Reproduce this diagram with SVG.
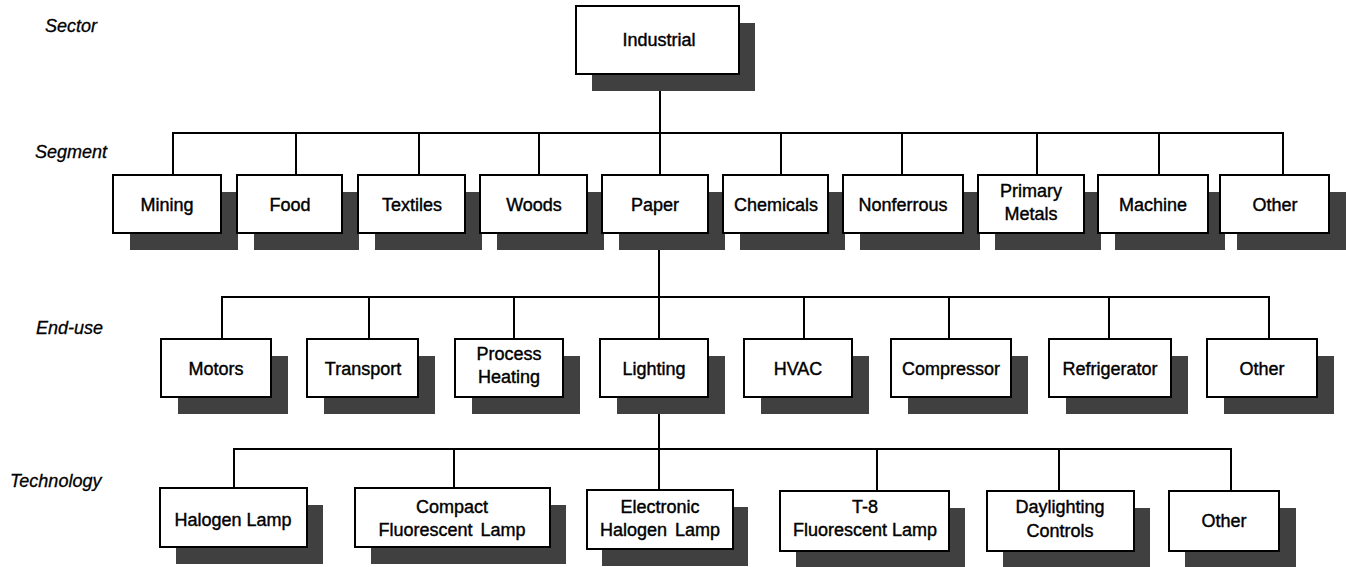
<svg xmlns="http://www.w3.org/2000/svg" width="1346" height="567" viewBox="0 0 1346 567">
<style>
.bg{fill:#fff}
.sh{fill:#404040}
.bx{fill:#fff;stroke:#000;stroke-width:2}
.t{font-family:"Liberation Sans",Arial,sans-serif;font-size:18px;fill:#000;stroke:#000;stroke-width:0.4;text-anchor:middle}
.lab{font-family:"Liberation Sans",Arial,sans-serif;font-size:18px;font-style:italic;fill:#000;stroke:#000;stroke-width:0.3}
.c{fill:none;stroke:#000;stroke-width:2}
</style>
<rect class="bg" x="0" y="0" width="1346" height="567"/>
<g id="level-labels">
<text class="lab" x="45" y="32">Sector</text>
<text class="lab" x="35" y="158">Segment</text>
<text class="lab" x="36" y="334">End-use</text>
<text class="lab" x="10" y="487">Technology</text>
</g>
<g id="connectors">
<path class="c" d="M660 74V133M173 175V133H1283V175M296 133V175M419 133V175M539 133V175M660 133V175M781 133V175M902 133V175M1037 133V175M1159 133V175"/>
<path class="c" d="M659 233V297M222 339V297H1269V339M369 297V339M514 297V339M659 297V339M804 297V339M949 297V339M1109 297V339"/>
<path class="c" d="M659 397V449M234 488V449H1231V491M454 449V488M659 449V490M877 449V491M1059 449V491"/>
</g>
<g id="n-industrial"><rect class="sh" x="592" y="23" width="163" height="68"/><rect class="bx" x="576" y="6" width="163" height="68"/><text class="t" x="659" y="46">Industrial</text></g>

<g id="n-mining"><rect class="sh" x="130" y="192" width="108" height="58"/><rect class="bx" x="113" y="175" width="108" height="58"/><text class="t" x="167" y="211">Mining</text></g>
<g id="n-food"><rect class="sh" x="254" y="192" width="105" height="58"/><rect class="bx" x="237" y="175" width="105" height="58"/><text class="t" x="290" y="211">Food</text></g>
<g id="n-textiles"><rect class="sh" x="375" y="192" width="107" height="58"/><rect class="bx" x="358" y="175" width="107" height="58"/><text class="t" x="412" y="211">Textiles</text></g>
<g id="n-woods"><rect class="sh" x="497" y="192" width="107" height="58"/><rect class="bx" x="480" y="175" width="107" height="58"/><text class="t" x="534" y="211">Woods</text></g>
<g id="n-paper"><rect class="sh" x="619" y="192" width="106" height="58"/><rect class="bx" x="602" y="175" width="106" height="58"/><text class="t" x="655" y="211">Paper</text></g>
<g id="n-chemicals"><rect class="sh" x="740" y="192" width="105" height="58"/><rect class="bx" x="723" y="175" width="105" height="58"/><text class="t" x="776" y="211">Chemicals</text></g>
<g id="n-nonferrous"><rect class="sh" x="860" y="192" width="120" height="58"/><rect class="bx" x="843" y="175" width="120" height="58"/><text class="t" x="903" y="211">Nonferrous</text></g>
<g id="n-primary-metals"><rect class="sh" x="995" y="192" width="106" height="58"/><rect class="bx" x="978" y="175" width="106" height="58"/><text class="t" x="1031" y="197">Primary</text><text class="t" x="1031" y="220">Metals</text></g>
<g id="n-machine"><rect class="sh" x="1115" y="192" width="110" height="58"/><rect class="bx" x="1098" y="175" width="110" height="58"/><text class="t" x="1153" y="211">Machine</text></g>
<g id="n-other-segment"><rect class="sh" x="1237" y="192" width="109" height="58"/><rect class="bx" x="1220" y="175" width="109" height="58"/><text class="t" x="1275" y="211">Other</text></g>

<g id="n-motors"><rect class="sh" x="178" y="356" width="110" height="58"/><rect class="bx" x="161" y="339" width="110" height="58"/><text class="t" x="216" y="375">Motors</text></g>
<g id="n-transport"><rect class="sh" x="324" y="356" width="111" height="58"/><rect class="bx" x="307" y="339" width="111" height="58"/><text class="t" x="363" y="375">Transport</text></g>
<g id="n-process-heating"><rect class="sh" x="472" y="356" width="108" height="58"/><rect class="bx" x="455" y="339" width="108" height="58"/><text class="t" x="509" y="360">Process</text><text class="t" x="509" y="383">Heating</text></g>
<g id="n-lighting"><rect class="sh" x="617" y="356" width="108" height="58"/><rect class="bx" x="600" y="339" width="108" height="58"/><text class="t" x="654" y="375">Lighting</text></g>
<g id="n-hvac"><rect class="sh" x="761" y="356" width="108" height="58"/><rect class="bx" x="744" y="339" width="108" height="58"/><text class="t" x="798" y="375">HVAC</text></g>
<g id="n-compressor"><rect class="sh" x="908" y="356" width="120" height="58"/><rect class="bx" x="891" y="339" width="120" height="58"/><text class="t" x="951" y="375">Compressor</text></g>
<g id="n-refrigerator"><rect class="sh" x="1066" y="356" width="122" height="58"/><rect class="bx" x="1049" y="339" width="122" height="58"/><text class="t" x="1110" y="375">Refrigerator</text></g>
<g id="n-other-enduse"><rect class="sh" x="1224" y="356" width="110" height="58"/><rect class="bx" x="1207" y="339" width="110" height="58"/><text class="t" x="1262" y="375">Other</text></g>

<g id="n-halogen-lamp"><rect class="sh" x="176" y="505" width="147" height="59"/><rect class="bx" x="160" y="488" width="147" height="59"/><text class="t" x="233" y="526">Halogen Lamp</text></g>
<g id="n-cfl"><rect class="sh" x="371" y="505" width="195" height="59"/><rect class="bx" x="355" y="488" width="195" height="59"/><text class="t" x="452" y="513">Compact</text><text class="t" x="452" y="536" word-spacing="3">Fluorescent Lamp</text></g>
<g id="n-electronic-halogen"><rect class="sh" x="602" y="507" width="146" height="59"/><rect class="bx" x="587" y="490" width="146" height="59"/><text class="t" x="660" y="513">Electronic</text><text class="t" x="660" y="536" word-spacing="3">Halogen Lamp</text></g>
<g id="n-t8"><rect class="sh" x="796" y="508" width="169" height="59"/><rect class="bx" x="780" y="491" width="169" height="60"/><text class="t" x="865" y="513">T-8</text><text class="t" x="865" y="536">Fluorescent Lamp</text></g>
<g id="n-daylighting"><rect class="sh" x="1003" y="508" width="147" height="59"/><rect class="bx" x="987" y="491" width="147" height="60"/><text class="t" x="1060" y="513">Daylighting</text><text class="t" x="1060" y="537">Controls</text></g>
<g id="n-other-tech"><rect class="sh" x="1185" y="508" width="111" height="59"/><rect class="bx" x="1169" y="491" width="110" height="60"/><text class="t" x="1224" y="527">Other</text></g>
</svg>
